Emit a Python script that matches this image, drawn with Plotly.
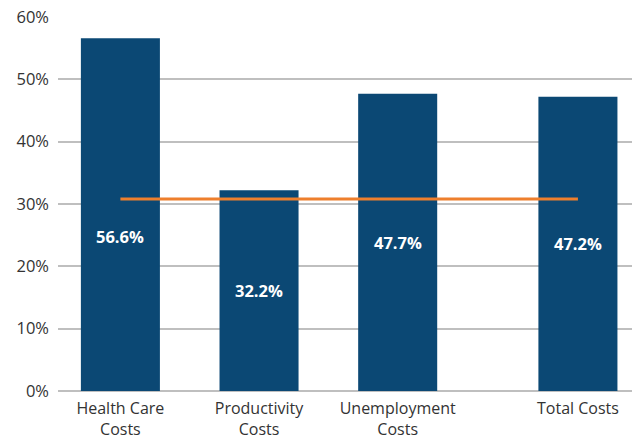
import plotly.graph_objects as go

categories = ["Health Care<br>Costs", "Productivity<br>Costs", "Unemployment<br>Costs", "Total Costs"]
x_pos = [0, 1, 2, 3.3]
values = [56.6, 32.2, 47.7, 47.2]
label_text = ["56.6%", "32.2%", "47.7%", "47.2%"]
label_y = [24.8, 16.1, 23.9, 23.6]
reference_level = 30.8

BAR = "#0B4874"
ORANGE = "#EE7F2D"
FONT = "Open Sans"

fig = go.Figure()
fig.add_trace(go.Bar(x=x_pos, y=values, width=0.57, marker=dict(color=BAR, line=dict(width=0)),
                     hoverinfo="skip"))
fig.add_trace(go.Scatter(x=[x_pos[0], x_pos[-1]], y=[reference_level, reference_level], mode="lines",
                         line=dict(color=ORANGE, width=3), hoverinfo="skip"))

for xp, yl, t in zip(x_pos, label_y, label_text):
    fig.add_annotation(x=xp, y=yl, text=t, showarrow=False,
                       font=dict(family=FONT, size=16.5, color="white", weight="bold"))

fig.update_layout(
    width=634, height=442,
    margin=dict(l=58, r=2, t=17, b=51),
    paper_bgcolor="white", plot_bgcolor="white",
    showlegend=False,
    font=dict(family=FONT, size=16, color="#333333"),
    xaxis=dict(range=[-0.45, 3.69], tickmode="array", tickvals=x_pos, ticktext=categories,
               showgrid=False, zeroline=False, showline=False, ticks="", ticklabelstandoff=6,
               automargin=False,
               tickfont=dict(family=FONT, size=16, color="#333333")),
    yaxis=dict(range=[0, 60], dtick=10, ticksuffix="%", showgrid=True, gridcolor="#BFBFBF",
               gridwidth=1.5, zeroline=True, zerolinecolor="#BFBFBF", zerolinewidth=1.5,
               showline=False, ticks="", ticklabelstandoff=8, automargin=False,
               tickfont=dict(family=FONT, size=16.5, color="#333333")),
)

fig.write_html("out.html", config={"displayModeBar": False},
               post_script="document.body.style.margin='0';document.body.style.overflow='hidden';")
